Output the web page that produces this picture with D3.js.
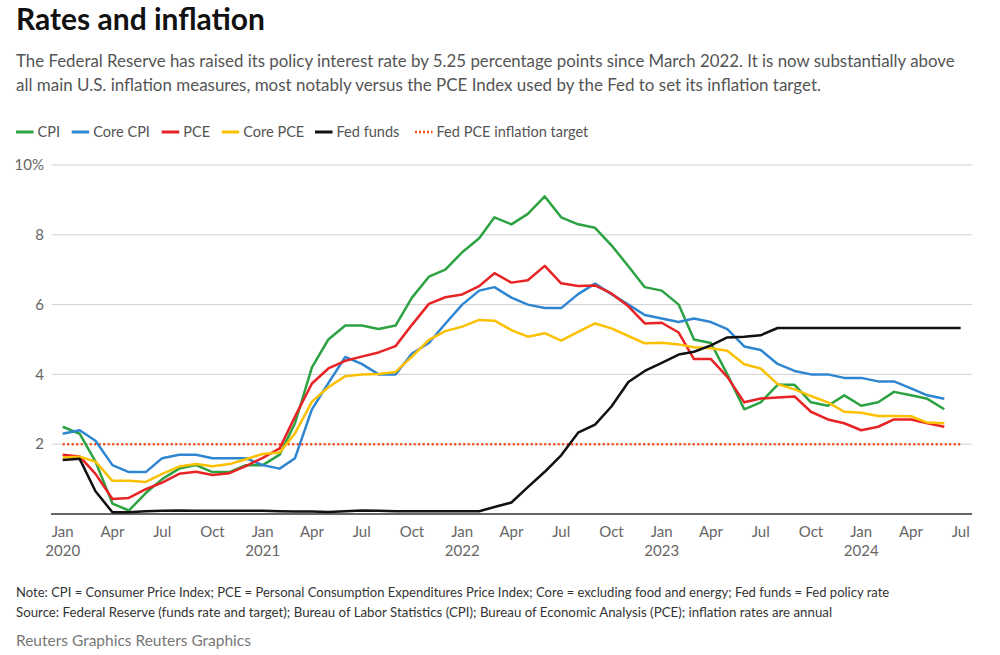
<!DOCTYPE html>
<html><head><meta charset="utf-8">
<script src="https://cdn.jsdelivr.net/npm/d3@7"></script>
<style>
body{margin:0;background:#fff;}
svg{display:block;}
text{font-family:Lato, "Open Sans", sans-serif;}
</style></head>
<body>
<svg id="c" width="1000" height="655"></svg>
<script>
// ---- data (monthly, Jan 2020 onwards) ----
const startMonth = new Date(2020, 0, 1);
const cpi = [2.5,2.3,1.5,0.3,0.1,0.6,1.0,1.3,1.4,1.2,1.2,1.4,
 1.4,1.7,2.6,4.2,5.0,5.4,5.4,5.3,5.4,6.2,6.8,7.0,
 7.5,7.9,8.5,8.3,8.6,9.1,8.5,8.3,8.2,7.7,7.1,6.5,
 6.4,6.0,5.0,4.9,4.0,3.0,3.2,3.7,3.7,3.2,3.1,3.4,
 3.1,3.2,3.5,3.4,3.3,3.0];
const coreCpi = [2.3,2.4,2.1,1.4,1.2,1.2,1.6,1.7,1.7,1.6,1.6,1.6,
 1.4,1.3,1.6,3.0,3.75,4.5,4.3,4.0,4.0,4.6,4.9,5.45,
 6.0,6.4,6.5,6.2,6.0,5.9,5.9,6.3,6.6,6.3,6.0,5.7,
 5.6,5.5,5.6,5.5,5.3,4.8,4.7,4.3,4.1,4.0,4.0,3.9,
 3.9,3.8,3.8,3.6,3.4,3.3];
const pce = [1.7,1.65,1.15,0.43,0.46,0.71,0.9,1.15,1.21,1.12,1.17,1.37,
 1.61,1.88,2.79,3.74,4.17,4.39,4.51,4.63,4.81,5.42,6.02,6.21,
 6.29,6.53,6.9,6.63,6.7,7.11,6.61,6.53,6.55,6.32,5.95,5.46,
 5.48,5.2,4.44,4.44,3.93,3.2,3.31,3.34,3.37,2.93,2.71,2.6,
 2.4,2.5,2.71,2.71,2.6,2.5];
const corePce = [1.62,1.64,1.5,0.95,0.95,0.92,1.15,1.36,1.43,1.37,1.43,1.57,
 1.72,1.76,2.31,3.22,3.63,3.95,4.0,4.01,4.07,4.51,4.99,5.24,
 5.37,5.56,5.54,5.27,5.08,5.18,4.97,5.22,5.46,5.32,5.1,4.89,
 4.91,4.86,4.78,4.75,4.68,4.29,4.17,3.72,3.57,3.38,3.2,2.93,
 2.9,2.81,2.81,2.8,2.62,2.6];
const fedFunds = [1.55,1.58,0.65,0.05,0.05,0.08,0.09,0.10,0.09,0.09,0.09,0.09,
 0.09,0.08,0.07,0.07,0.06,0.08,0.10,0.09,0.08,0.08,0.08,0.08,
 0.08,0.08,0.20,0.33,0.77,1.21,1.68,2.33,2.56,3.08,3.78,4.10,
 4.33,4.57,4.65,4.83,5.06,5.08,5.12,5.33,5.33,5.33,5.33,5.33,
 5.33,5.33,5.33,5.33,5.33,5.33,5.33];
const inflationTarget = 2;
const yTicks = [2,4,6,8,10];
const seriesNames = ["CPI","Core CPI","PCE","Core PCE","Fed funds"];
const seriesColors = ["#2ca243","#2f86d0","#e82325","#fbc000","#111111"];
const targetLabel = "Fed PCE inflation target";
const targetColor = "#f4511e";
const title = "Rates and inflation";
const subtitle = ["The Federal Reserve has raised its policy interest rate by 5.25 percentage points since March 2022. It is now substantially above",
 "all main U.S. inflation measures, most notably versus the PCE Index used by the Fed to set its inflation target."];
const notes = ["Note: CPI = Consumer Price Index; PCE = Personal Consumption Expenditures Price Index; Core = excluding food and energy; Fed funds = Fed policy rate",
 "Source: Federal Reserve (funds rate and target); Bureau of Labor Statistics (CPI); Bureau of Economic Analysis (PCE); inflation rates are annual"];
const credit = "Reuters Graphics Reuters Graphics";

// ---- build ----
const svg = d3.select("#c");
const monthsOf = arr => arr.map((v,i)=>({date:d3.timeMonth.offset(startMonth,i), v}));
const series = [cpi,coreCpi,pce,corePce,fedFunds].map(monthsOf);

const x = d3.scaleTime().domain([new Date(2020,0,1), new Date(2024,6,1)]).range([62.7, 960.7]);
const y = d3.scaleLinear().domain([0,10]).range([514,165]);

function fit(sel, w){
  const n = sel.node(); const fs = parseFloat(sel.attr("font-size"));
  const m = n.getComputedTextLength();
  sel.attr("font-size", (fs*w/m).toFixed(2));
}

// title / subtitle
svg.append("text").attr("x",16).attr("y",29.5).attr("font-size",28).attr("font-weight",700)
  .attr("fill","#111").text(title).call(fit,249);
svg.append("text").attr("x",16).attr("y",67).attr("font-size",17).attr("fill","#555").text(subtitle[0]).call(fit,939);
svg.append("text").attr("x",16).attr("y",91).attr("font-size",17).attr("fill","#555").text(subtitle[1]).call(fit,806);

// legend
const lg = svg.append("g").attr("transform","translate(16,137)");
const tmp = lg.append("text").attr("font-size",15).text(targetLabel);
fit(tmp,152); const lfs = +tmp.attr("font-size"); tmp.remove();
const legendX = [0, 55.7, 145.7, 205.7, 299, 399];
const items = seriesNames.map((n,i)=>({n, c:seriesColors[i], dot:false})).concat([{n:targetLabel,c:targetColor,dot:true}]);
items.forEach((it,i)=>{
  const lx = legendX[i];
  lg.append("line").attr("x1",lx).attr("x2",lx+17.5).attr("y1",-5).attr("y2",-5)
    .attr("stroke",it.c).attr("stroke-width",it.dot?2.5:3)
    .attr("stroke-dasharray", it.dot?"2 2":null);
  lg.append("text").attr("x",lx+21.5).attr("y",0).attr("font-size",lfs).attr("fill","#555").text(it.n);
});

// gridlines
const g = svg.append("g");
g.selectAll("line.grid").data(yTicks).join("line").attr("class","grid")
  .attr("x1",52).attr("x2",972).attr("y1",d=>y(d)).attr("y2",d=>y(d))
  .attr("stroke","#d0d0d0").attr("stroke-width",1);
g.selectAll("text.ylab").data(yTicks).join("text").attr("class","ylab")
  .attr("x",44).attr("y",d=>y(d)).attr("dy","0.35em").attr("text-anchor","end")
  .attr("font-size",15).attr("fill","#666").text(d=>d===10?"10%":d);

// target line
g.append("line").attr("x1",x(new Date(2020,0,1))).attr("x2",x(new Date(2024,6,1)))
  .attr("y1",y(inflationTarget)).attr("y2",y(inflationTarget))
  .attr("stroke",targetColor).attr("stroke-width",2.5).attr("stroke-dasharray","2 2.5");

// baseline
g.append("line").attr("x1",51).attr("x2",972).attr("y1",y(0)).attr("y2",y(0))
  .attr("stroke","#333").attr("stroke-width",1.5);

// x axis labels
const xTicks = d3.timeMonth.every(3).range(new Date(2020,0,1), new Date(2024,7,1));
const fmt = d3.timeFormat("%b");
const xl = g.selectAll("g.xt").data(xTicks).join("g").attr("class","xt")
  .attr("transform",d=>`translate(${x(d)},0)`);
xl.append("text").attr("y",537).attr("text-anchor","middle").attr("font-size",15).attr("fill","#666").text(d=>fmt(d));
xl.filter(d=>d.getMonth()===0).append("text").attr("y",556).attr("text-anchor","middle")
  .attr("font-size",15).attr("fill","#666").text(d=>d.getFullYear());

// series lines
const line = d3.line().x(d=>x(d.date)).y(d=>y(d.v));
series.forEach((s,i)=>{
  g.append("path").datum(s).attr("d",line).attr("fill","none")
    .attr("stroke",seriesColors[i]).attr("stroke-width",2.5).attr("stroke-linejoin","round");
});

// notes
svg.append("text").attr("x",16).attr("y",597).attr("font-size",13.5).attr("fill","#333").text(notes[0]).call(fit,874);
svg.append("text").attr("x",16).attr("y",617).attr("font-size",13.5).attr("fill","#333").text(notes[1]).call(fit,817);
svg.append("text").attr("x",16).attr("y",646).attr("font-size",15).attr("fill","#777").text(credit).call(fit,235);
</script>
</body></html>
